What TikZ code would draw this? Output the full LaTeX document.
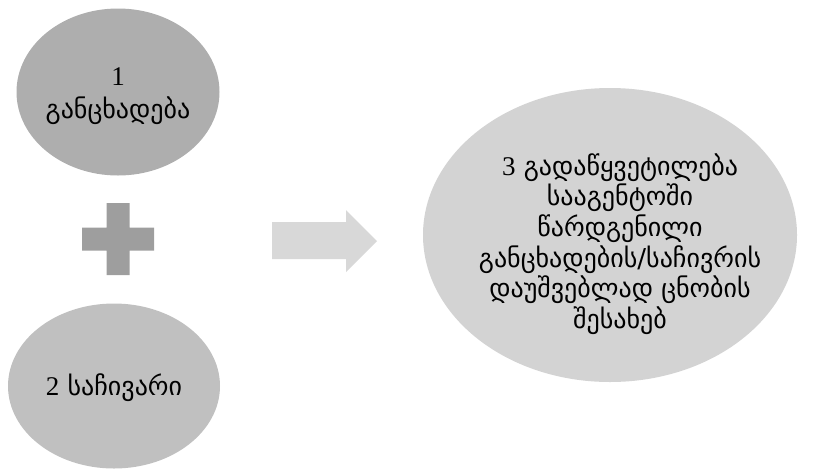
\documentclass[tikz,border=0pt]{standalone}
\usepackage{fontspec}
\setmainfont{Liberation Serif}
\newfontfamily\geo{DejaVu Sans}
\usetikzlibrary{shapes.geometric}
\definecolor{appgray}{RGB}{174,174,174}
\definecolor{complgray}{RGB}{192,192,192}
\definecolor{plusgray}{RGB}{158,158,158}
\definecolor{arrowgray}{RGB}{216,216,216}
\definecolor{decgray}{RGB}{211,211,211}
\newcommand\digit[1]{{\rmfamily\fontsize{27}{30.6}\selectfont #1}}
\begin{document}
\begin{tikzpicture}[x=1pt,y=-1pt, line join=round,
    blob/.style={ellipse, inner sep=0pt},
    words/.style={inner sep=0pt, align=center, font=\fontsize{26}{30.6}\selectfont\geo}]
    \useasboundingbox (0,0) rectangle (821,472);
    % the two inputs
    \node[blob, fill=appgray, minimum width=203pt, minimum height=167pt] (app) at (118,92) {};
    \node[words] (apptext) at (118,96) {\digit{1}\\[2pt]განცხადება};
    \node[blob, fill=complgray, minimum width=212pt, minimum height=165pt] (compl) at (114,386) {};
    \node[words] (compltext) at (114,388) {\digit{2} საჩივარი};
    % plus sign
    \def\px{118} \def\py{239}
    \fill[plusgray] (\px-11.5,\py-36)--(\px+11.5,\py-36)--(\px+11.5,\py-11.5)--(\px+36,\py-11.5)
        --(\px+36,\py+11.5)--(\px+11.5,\py+11.5)--(\px+11.5,\py+36)--(\px-11.5,\py+36)--(\px-11.5,\py+11.5)
        --(\px-36,\py+11.5)--(\px-36,\py-11.5)--(\px-11.5,\py-11.5)--cycle;
    % arrow
    \fill[arrowgray] (272,222)--(346,222)--(346,210)--(377,241)--(346,272)--(346,259)--(272,259)--cycle;
    % the decision
    \node[blob, fill=decgray, minimum width=374pt, minimum height=294pt] (dec) at (610,235) {};
    \node[words] (dectext) at (620,244)
        {\digit{3} გადაწყვეტილება\\სააგენტოში\\წარდგენილი\\განცხადების/საჩივრის\\დაუშვებლად ცნობის\\შესახებ};
\end{tikzpicture}
\end{document}
